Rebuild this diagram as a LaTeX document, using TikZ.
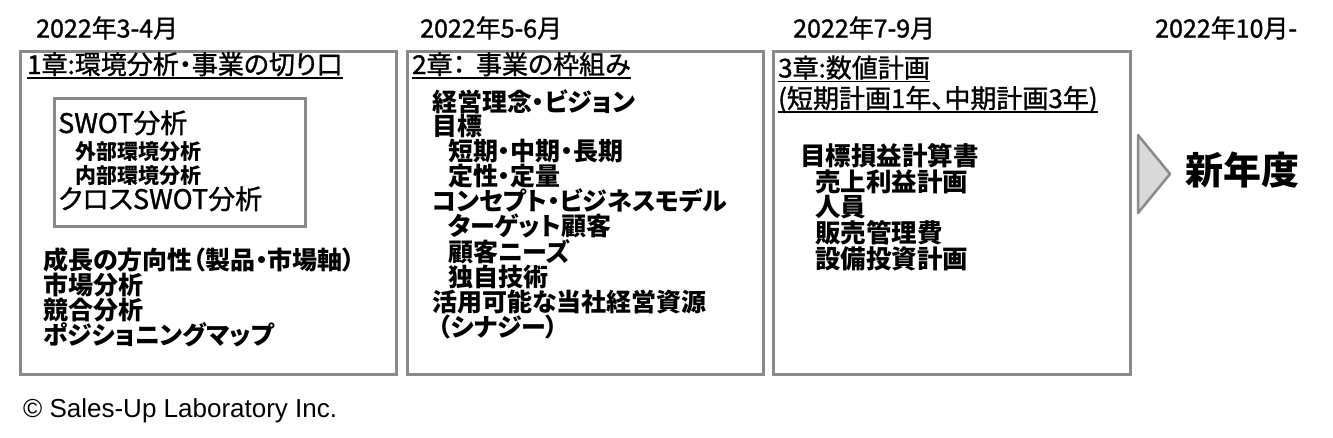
\documentclass[tikz,border=0pt]{standalone}
\usepackage{fontspec}
\setmainfont{Noto Sans CJK JP}[RawFeature=+palt]
\newfontfamily\jpmed{Noto Sans CJK JP}[RawFeature=+palt, FakeBold=1.2]
\newfontfamily\latinfont{Liberation Sans}
\usepackage{tikz}
\usetikzlibrary{positioning}
\definecolor{framegray}{HTML}{8A8A8A}
\definecolor{arrowfill}{HTML}{D9D9D9}
\tikzset{
frame/.style={draw=framegray, line width=2.7pt, inner sep=0pt, anchor=north west}, % the boxes of the chapters
date/.style={font=\jpmed\fontsize{25}{25}\selectfont, anchor=base west, inner sep=0pt}, % period above a box
heading/.style={font=\jpmed\fontsize{26}{26}\selectfont, anchor=base west, inner sep=0pt}, % title of a chapter
items/.style={font=\bfseries\fontsize{25}{25}\selectfont, align=left, anchor=north west, inner sep=0pt}, % topics of a chapter
ul/.style={line width=1.6pt}, % line under a title
next/.style={draw=framegray, fill=arrowfill, line width=2.5pt, line join=round}, % arrow to the new year
}

\begin{document}
\begin{tikzpicture}[x=1pt, y=-1pt]
\useasboundingbox (0,0) rectangle (1333,437);
% periods
\node[date] (d1) at (36,37.5) {2022年3-4月};
\node[date] (d2) at (420,37.5) {2022年5-6月};
\node[date] (d3) at (793,37.5) {2022年7-9月};
\node[date] (d4) at (1155,37.5) {2022年10月-};
% boxes
\node[frame, minimum width=376pt, minimum height=323pt] (c1) at (19,50) {};
\node[frame, minimum width=356pt, minimum height=323pt] (c2) at (406,50) {};
\node[frame, minimum width=357pt, minimum height=323pt] (c3) at (772,50) {};
\node[frame, minimum width=251pt, minimum height=128pt] (swot) at (53,97) {};
% chapter 1
\node[heading] (h1) at (27,74) {1章:環境分析・事業の切り口};
\draw[ul] ([yshift=-4pt]h1.base west) -- ([yshift=-4pt]h1.base east);
\node[heading, font=\jpmed\fontsize{27}{27}\selectfont] (s1) at (58,133) {SWOT分析};
\node[heading, font=\bfseries\fontsize{21}{21}\selectfont] (s2) at (75,159) {外部環境分析};
\node[heading, font=\bfseries\fontsize{21}{21}\selectfont] (s3) at (75,183) {内部環境分析};
\node[heading, font=\jpmed\fontsize{27}{27}\selectfont] (s4) at (58,209) {クロスSWOT分析};
\node[items] (t1) at (43,247) {成長の方向性（製品・市場軸）\\市場分析\\競合分析\\ポジショニングマップ};
% chapter 2
\node[heading] (h2) at (412,74) {2章：\hspace{0.4em}事業の枠組み};
\draw[ul] ([yshift=-4pt]h2.base west) -- ([yshift=-4pt]h2.base east);
\node[items, font=\bfseries\fontsize{25}{22.5}\selectfont] (t2) at (432,89) {経営理念・ビジョン\\目標\\
\hspace*{16pt}短期・中期・長期\\\hspace*{16pt}定性・定量\\コンセプト・ビジネスモデル\\
\hspace*{16pt}ターゲット顧客\\\hspace*{16pt}顧客ニーズ\\\hspace*{16pt}独自技術\\
活用可能な当社経営資源\\\hspace*{6pt}（シナジー）};
% chapter 3
\node[heading] (h3) at (778,77.5) {3章:数値計画};
\draw[ul] ([yshift=-4pt]h3.base west) -- ([yshift=-4pt]h3.base east);
\node[heading] (h4) at (778,108) {(短期計画1年、中期計画3年)};
\draw[ul] ([yshift=-4pt]h4.base west) -- ([yshift=-4pt]h4.base east);
\node[items, font=\bfseries\fontsize{25.5}{25.8}\selectfont] (t3) at (800,143) {目標損益計算書\\
\hspace*{15pt}売上利益計画\\\hspace*{15pt}人員\\\hspace*{15pt}販売管理費\\\hspace*{15pt}設備投資計画};
% new year
\draw[next] (1138,135) -- (1170,174) -- (1138,213) -- cycle;
\node[heading, font=\bfseries\fontsize{38}{38}\selectfont] (ny) at (1185,184) {新年度};
\node[heading, font=\latinfont\fontsize{26}{26}\selectfont] (copy) at (23,417) {© Sales-Up Laboratory Inc.};
\end{tikzpicture}
\end{document}
